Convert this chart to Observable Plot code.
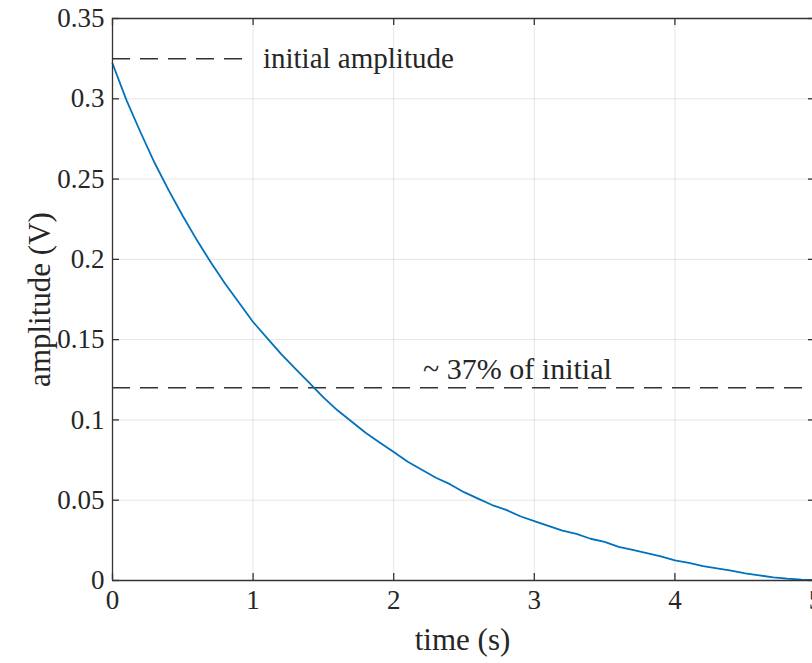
<!DOCTYPE html>
<html>
<head>
<meta charset="utf-8">
<script src="https://cdn.jsdelivr.net/npm/d3@7"></script>
<script src="https://cdn.jsdelivr.net/npm/@observablehq/plot@0.6"></script>
<style>
  html, body { margin: 0; padding: 0; background: #fff; }
  svg text { font-family: 'Liberation Serif', 'Times New Roman', serif; }
</style>
</head>
<body>
<div id="chart"></div>
<script>
// time (s)
const time = [0.0,0.1,0.2,0.3,0.4,0.5,0.6,0.7,0.8,0.9,
              1.0,1.1,1.2,1.3,1.4,1.5,1.6,1.7,1.8,1.9,
              2.0,2.1,2.2,2.3,2.4,2.5,2.6,2.7,2.8,2.9,
              3.0,3.1,3.2,3.3,3.4,3.5,3.6,3.7,3.8,3.9,
              4.0,4.1,4.2,4.3,4.4,4.5,4.6,4.7,4.8,4.9,5.0];
// amplitude (V)
const amplitude = [0.322,0.299,0.279,0.260,0.243,0.227,0.212,0.198,0.185,0.173,
                   0.161,0.151,0.141,0.132,0.123,0.114,0.106,0.099,0.092,0.086,
                   0.080,0.074,0.069,0.064,0.060,0.055,0.051,0.047,0.044,0.040,
                   0.037,0.034,0.031,0.029,0.026,0.024,0.021,0.019,0.017,0.015,
                   0.0125,0.011,0.009,0.0075,0.0062,0.0045,0.0032,0.002,0.0012,0.0006,0.0003];

const xTicks = [0,1,2,3,4,5];
const xTickLabels = ["0","1","2","3","4","5"];
const yTicks = [0,0.05,0.1,0.15,0.2,0.25,0.3,0.35];
const yTickLabels = ["0","0.05","0.1","0.15","0.2","0.25","0.3","0.35"];

// reference lines
const initialLevel = 0.325;
const initialLineEnd = 0.95;
const level37 = 0.12;

// annotations
const initialNote = [{x: 1.07, y: 0.325, text: "initial amplitude"}];
const note37 = [{x: 2.88, y: 0.12, text: "~ 37% of initial"}];

const series = time.map((t, i) => ({t, v: amplitude[i]}));

const axisColor = "#333";
const font = "'Liberation Serif', 'Times New Roman', serif";
const textColor = "#262626";

const chart = Plot.plot({
  width: 812,
  height: 663,
  marginLeft: 112,
  marginRight: 0,
  marginTop: 18,
  marginBottom: 83,
  style: {fontFamily: font, fontSize: "27px", color: textColor, background: "#fff"},
  x: {domain: [0, 5], range: [112, 815]},
  y: {domain: [0, 0.35]},
  marks: [
    Plot.gridX(xTicks, {stroke: "#000", strokeOpacity: 0.1, strokeWidth: 1}),
    Plot.gridY(yTicks, {stroke: "#000", strokeOpacity: 0.1, strokeWidth: 1}),
    // dashed reference lines
    Plot.ruleY([initialLevel], {x1: 0, x2: initialLineEnd, stroke: "#333", strokeWidth: 1.5, strokeDasharray: "18,10"}),
    Plot.ruleY([level37], {x1: 0, x2: 5, stroke: "#333", strokeWidth: 1.5, strokeDasharray: "18,10"}),
    // data
    Plot.line(series, {x: "t", y: "v", stroke: "#0072BD", strokeWidth: 1.8}),
    // box
    Plot.ruleY([0], {x1: 0, x2: 5, stroke: axisColor, strokeWidth: 1.3}),
    Plot.ruleY([0.35], {x1: 0, x2: 5, stroke: axisColor, strokeWidth: 1.3}),
    Plot.ruleX([0], {y1: 0, y2: 0.35, stroke: axisColor, strokeWidth: 1.3}),
    Plot.ruleX([5], {y1: 0, y2: 0.35, stroke: axisColor, strokeWidth: 1.3}),
    // inward ticks
    Plot.ruleX(xTicks, {x: d => d, y1: 0, y2: 0, insetTop: -7, stroke: axisColor, strokeWidth: 1.3}),
    Plot.ruleX(xTicks, {x: d => d, y1: 0.35, y2: 0.35, insetBottom: -7, stroke: axisColor, strokeWidth: 1.3}),
    Plot.ruleY(yTicks, {y: d => d, x1: 0, x2: 0, insetRight: -7, stroke: axisColor, strokeWidth: 1.3}),
    Plot.ruleY(yTicks, {y: d => d, x1: 5, x2: 5, insetLeft: -7, stroke: axisColor, strokeWidth: 1.3}),
    // axes (labels only)
    Plot.axisX(xTicks, {
      anchor: "bottom", tickSize: 0, tickPadding: 9,
      tickFormat: d => xTickLabels[xTicks.indexOf(d)],
      fontSize: 27, fontFamily: font, fill: textColor,
      label: null
    }),
    Plot.axisY(yTicks, {
      anchor: "left", tickSize: 0, tickPadding: 8,
      tickFormat: d => yTickLabels[yTicks.indexOf(d)],
      fontSize: 27, fontFamily: font, fill: textColor,
      label: null
    }),
    // axis titles
    Plot.text(["time (s)"], {frameAnchor: "bottom", dy: 69, textAnchor: "middle", lineAnchor: "bottom", text: d => d, fontSize: 31, fontFamily: font, fill: textColor}),
    Plot.text(["amplitude (V)"], {frameAnchor: "left", dx: -72, rotate: -90, textAnchor: "middle", lineAnchor: "middle", text: d => d, fontSize: 31, fontFamily: font, fill: textColor}),
    // annotations
    Plot.text(initialNote, {x: "x", y: "y", text: "text", textAnchor: "start", lineAnchor: "middle", fontSize: 29, fontFamily: font, fill: textColor}),
    Plot.text(note37, {x: "x", y: "y", text: "text", textAnchor: "middle", lineAnchor: "bottom", dy: -9, fontSize: 30, fontFamily: font, fill: textColor})
  ]
});

document.getElementById("chart").appendChild(chart);
</script>
</body>
</html>
